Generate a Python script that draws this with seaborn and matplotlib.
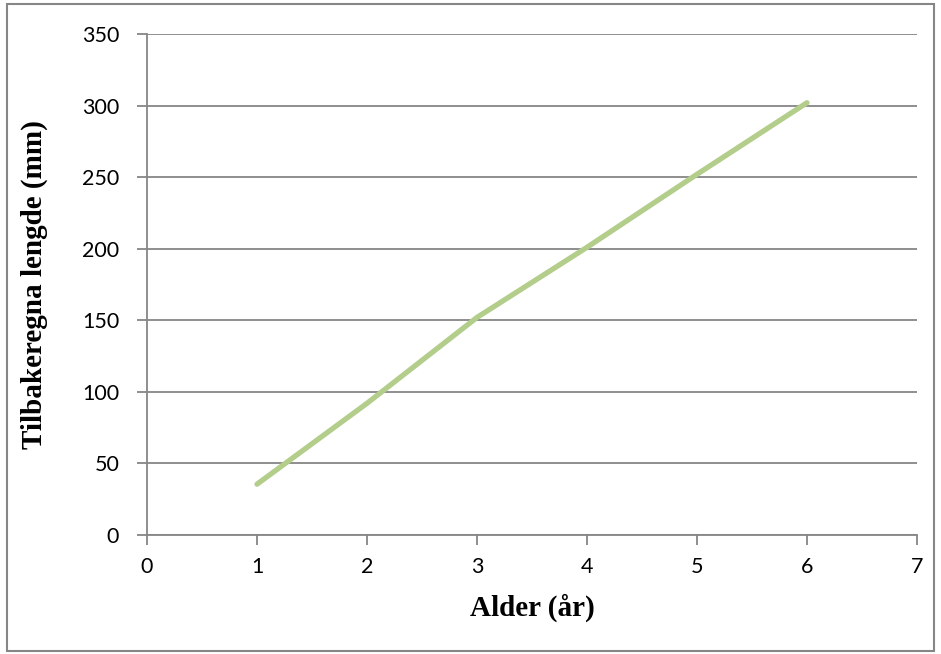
import matplotlib
matplotlib.use("Agg")
import matplotlib.pyplot as plt
import seaborn as sns
import pandas as pd
from matplotlib.patches import Rectangle

# Back-calculated length by age
alder = [1, 2, 3, 4, 5, 6]
lengde = [35.5, 92, 152, 201, 252, 302]

x_ticks = [0, 1, 2, 3, 4, 5, 6, 7]
y_ticks = [0, 50, 100, 150, 200, 250, 300, 350]

df = pd.DataFrame({"Alder": alder, "Lengde": lengde})

sns.set_theme(style="white")
plt.rcParams["font.family"] = ["Lato", "DejaVu Sans"]

fig = plt.figure(figsize=(9.41, 6.54), dpi=100)
ax = fig.add_axes([147 / 941, 1 - 535 / 654, 770 / 941, 501 / 654])

grid_col = "#868686"
line_col = "#B3CD8B"

sns.lineplot(data=df, x="Alder", y="Lengde", ax=ax, color=line_col,
             linewidth=3.8, solid_capstyle="round", zorder=3)

ax.set_xlim(0, 7)
ax.set_ylim(0, 350)
ax.set_xticks(x_ticks)
ax.set_yticks(y_ticks)
ax.set_xticklabels([str(v) for v in x_ticks])
ax.set_yticklabels([str(v) for v in y_ticks])

ax.yaxis.grid(True, color=grid_col, linewidth=1.3)
ax.xaxis.grid(False)
ax.set_axisbelow(True)

for side in ["top", "right"]:
    ax.spines[side].set_visible(False)
for side in ["left", "bottom"]:
    ax.spines[side].set_color(grid_col)
    ax.spines[side].set_linewidth(1.3)

ax.tick_params(axis="both", which="major", direction="out", length=7,
               width=1.3, color=grid_col, labelsize=15.5, labelcolor="black")
ax.tick_params(axis="x", bottom=True, pad=9)
ax.tick_params(axis="y", left=True, pad=13)

ax.set_xlabel("Alder (år)", fontfamily="Liberation Serif", fontweight="bold",
              fontsize=21, labelpad=12, color="black")
ax.set_ylabel("Tilbakeregna lengde (mm)", fontfamily="Liberation Serif",
              fontweight="bold", fontsize=21, color="black")
ax.yaxis.set_label_coords(-0.129, 0.5)

# Chart-area frame
fig.patches.append(Rectangle((7 / 941, 3 / 654), 927 / 941, 647 / 654,
                             transform=fig.transFigure, fill=False,
                             edgecolor=grid_col, linewidth=1.5))

fig.savefig("out.png", dpi=100)
